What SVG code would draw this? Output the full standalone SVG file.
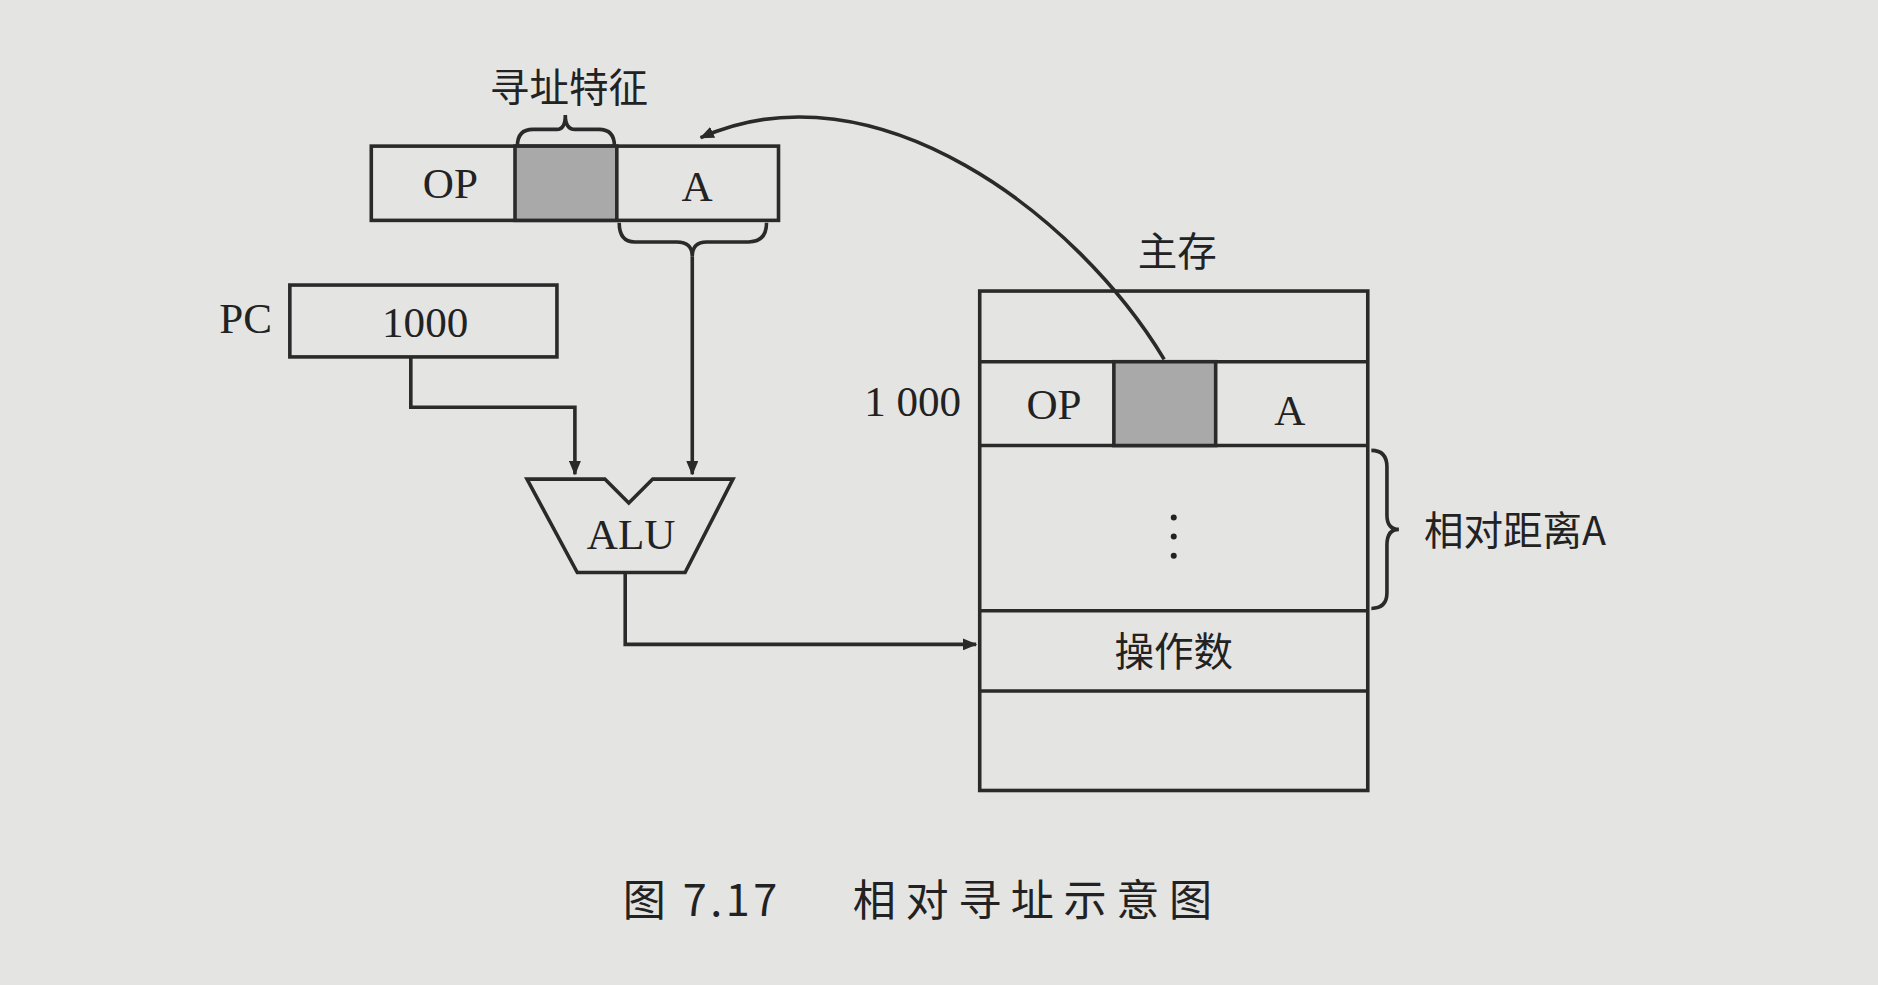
<svg xmlns="http://www.w3.org/2000/svg" width="1878" height="985" viewBox="0 0 1878 985">
<style>
.b{fill:none;stroke:#2a2a2a;stroke-width:3}
.s{fill:#a9a9a9;stroke:#2a2a2a;stroke-width:3}
.t{font-family:"Liberation Serif","Noto Sans CJK SC",serif;fill:#222;font-size:36px;text-anchor:middle}
.c{font-family:"Noto Sans CJK SC",sans-serif;fill:#222;font-size:33px;text-anchor:middle}
.cap{font-family:"Noto Sans CJK SC",sans-serif;fill:#222;font-size:36px}
</style>
<defs><marker id="ar" markerWidth="12" markerHeight="10" refX="11" refY="5" orient="auto" markerUnits="userSpaceOnUse"><path d="M0,0L12,5L0,10Z" fill="#2a2a2a"/></marker></defs>
<rect width="1878" height="985" fill="#e4e4e2"/>
<g transform="scale(1.1977)">
<g id="ir">
<rect class="b" x="310" y="122" width="340" height="62" fill="#ececea"/>
<rect class="s" x="430" y="122" width="85" height="62"/>
<text class="t" x="376" y="165">OP</text><text class="t" x="582" y="168">A</text>
</g>
<g id="feature">
<path class="b" stroke-width="2" d="M432,122 Q432,108 445,108 L465,108 Q472,108 472,96 Q472,108 480,108 L500,108 Q513,108 513,122"/>
<text class="c" x="475" y="85">寻址特征</text>
</g>
<g id="pc">
<text class="t" x="205" y="278">PC</text>
<rect class="b" x="242" y="238" width="223" height="60" fill="#ececea"/>
<text class="t" x="355" y="281">1000</text>
</g>
<g id="alu">
<path class="b" fill="#ececea" d="M440,400 L505,400 L525,420 L545,400 L612,400 L572,478 L482,478 Z"/>
<text class="t" x="527" y="458">ALU</text>
</g>
<g id="mem">
<text class="c" x="983" y="222">主存</text>
<rect class="b" x="818" y="243" width="324" height="417" fill="#ececea"/>
<line class="b" x1="818" y1="302" x2="1142" y2="302"/>
<line class="b" x1="818" y1="372" x2="1142" y2="372"/>
<line class="b" x1="818" y1="510" x2="1142" y2="510"/>
<line class="b" x1="818" y1="577" x2="1142" y2="577"/>
<rect class="s" x="930" y="302" width="85" height="70"/>
<text class="t" x="880" y="350">OP</text><text class="t" x="1077" y="355">A</text>
<text class="t" x="762" y="347">1 000</text>
<circle cx="980" cy="432" r="2.5" fill="#222"/><circle cx="980" cy="448" r="2.5" fill="#222"/><circle cx="980" cy="464" r="2.5" fill="#222"/>
<text class="c" x="980" y="556">操作数</text>
<path class="b" stroke-width="2" d="M1145,376 Q1158,376 1158,390 L1158,430 Q1158,442 1168,442 Q1158,442 1158,455 L1158,495 Q1158,508 1145,508"/>
<text class="c" x="1265" y="455">相对距离A</text>
</g>
<g id="connectors">
<path class="b" stroke-width="2" d="M517,186 Q517,202 530,202 L565,202 Q578,202 578,214 Q578,202 590,202 L625,202 Q640,202 640,186"/>
<path class="b" stroke-width="2" marker-end="url(#ar)" d="M578,214 L578,396"/>
<path class="b" stroke-width="2" marker-end="url(#ar)" d="M343,298 L343,340 L480,340 L480,396"/>
<path class="b" stroke-width="2" marker-end="url(#ar)" d="M522,478 L522,538 L815,538"/>
<path class="b" stroke-width="2" marker-end="url(#ar)" d="M972,300 C900,180 730,50 585,115"/>
</g>
<text class="cap" x="520" y="765" letter-spacing="3">图 7.17</text>
<text class="cap" x="712" y="765" letter-spacing="8">相对寻址示意图</text>
</g>
</svg>
